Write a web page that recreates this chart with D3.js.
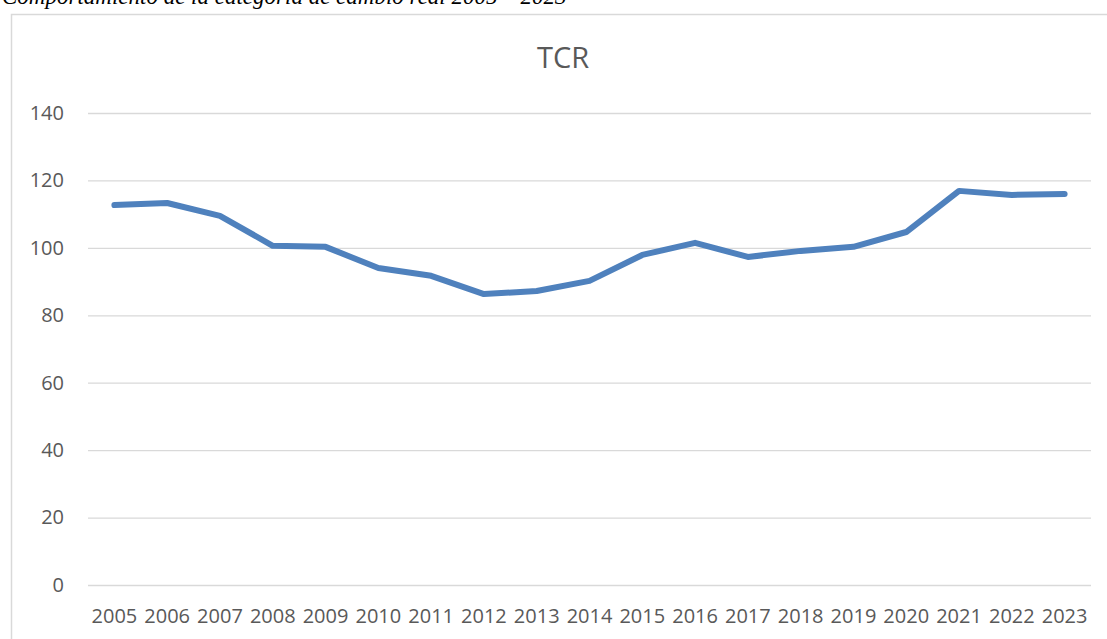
<!DOCTYPE html>
<html>
<head>
<meta charset="utf-8">
<script src="https://cdn.jsdelivr.net/npm/d3@7"></script>
<style>
  body { margin: 0; background: #fff; }
  .tick text { font-family: "Open Sans", sans-serif; fill: #595959; }
</style>
</head>
<body>
<div class="chart"></div>
<script>
var years = ["2005","2006","2007","2008","2009","2010","2011","2012","2013","2014",
             "2015","2016","2017","2018","2019","2020","2021","2022","2023"];
var tcr = [112.7, 113.3, 109.5, 100.6, 100.3, 94.0, 91.7, 86.3, 87.2, 90.2,
           97.9, 101.5, 97.3, 99.1, 100.3, 104.7, 116.9, 115.7, 116.0];
var yTicks = [0, 20, 40, 60, 80, 100, 120, 140];

var svgWidth = 1107;
var svgHeight = 639;

var margin = { top: 113, right: 16, bottom: 54, left: 88 };
var plotRight = 1091;
var height = 585 - margin.top;

var svg = d3.select(".chart")
  .append("svg")
  .attr("width", svgWidth)
  .attr("height", svgHeight);

// caption above the chart frame (cut off at the top, as in the source)
svg.append("text")
  .attr("x", 2)
  .attr("y", 4)
  .attr("font-family", "Liberation Serif, serif")
  .attr("font-style", "italic")
  .attr("font-size", "23px")
  .attr("fill", "#000")
  .text("Comportamiento de la categoría de cambio real 2005 – 2023");

// chart frame
svg.append("rect")
  .attr("x", 11.5)
  .attr("y", 14.5)
  .attr("width", svgWidth + 20)
  .attr("height", svgHeight + 20)
  .attr("fill", "none")
  .attr("stroke", "#d9d9d9")
  .attr("stroke-width", 1.5);

svg.append("text")
  .attr("x", 563)
  .attr("y", 68)
  .attr("text-anchor", "middle")
  .attr("font-family", "Open Sans, sans-serif")
  .attr("font-size", "29px")
  .attr("fill", "#595959")
  .text("TCR");

var chartGroup = svg.append("g")
  .attr("transform", `translate(${margin.left}, ${margin.top})`);

var xScale = d3.scaleBand()
  .domain(years)
  .range([0, plotRight - margin.left]);

var yScale = d3.scaleLinear()
  .domain([0, 140])
  .range([height, 0]);

// y axis + gridlines
chartGroup.append("g")
  .call(d3.axisLeft(yScale).tickValues(yTicks).tickSize(-(plotRight - margin.left)).tickPadding(24))
  .call(g => g.select(".domain").remove())
  .call(g => g.selectAll(".tick line").attr("stroke", "#d9d9d9").attr("stroke-width", 1.3))
  .call(g => g.selectAll(".tick text").attr("font-size", "20px"));

chartGroup.append("g")
  .attr("transform", `translate(0, ${height})`)
  .call(d3.axisBottom(xScale).tickSize(0).tickPadding(24))
  .call(g => g.select(".domain").remove())
  .call(g => g.selectAll(".tick text").attr("font-size", "20px"));

var line = d3.line()
  .x((d, i) => xScale(years[i]) + xScale.bandwidth() / 2)
  .y(d => yScale(d));

chartGroup.append("path")
  .datum(tcr)
  .attr("d", line)
  .attr("fill", "none")
  .attr("stroke", "#4f81bd")
  .attr("stroke-width", 6)
  .attr("stroke-linecap", "round")
  .attr("stroke-linejoin", "round");
</script>
</body>
</html>
